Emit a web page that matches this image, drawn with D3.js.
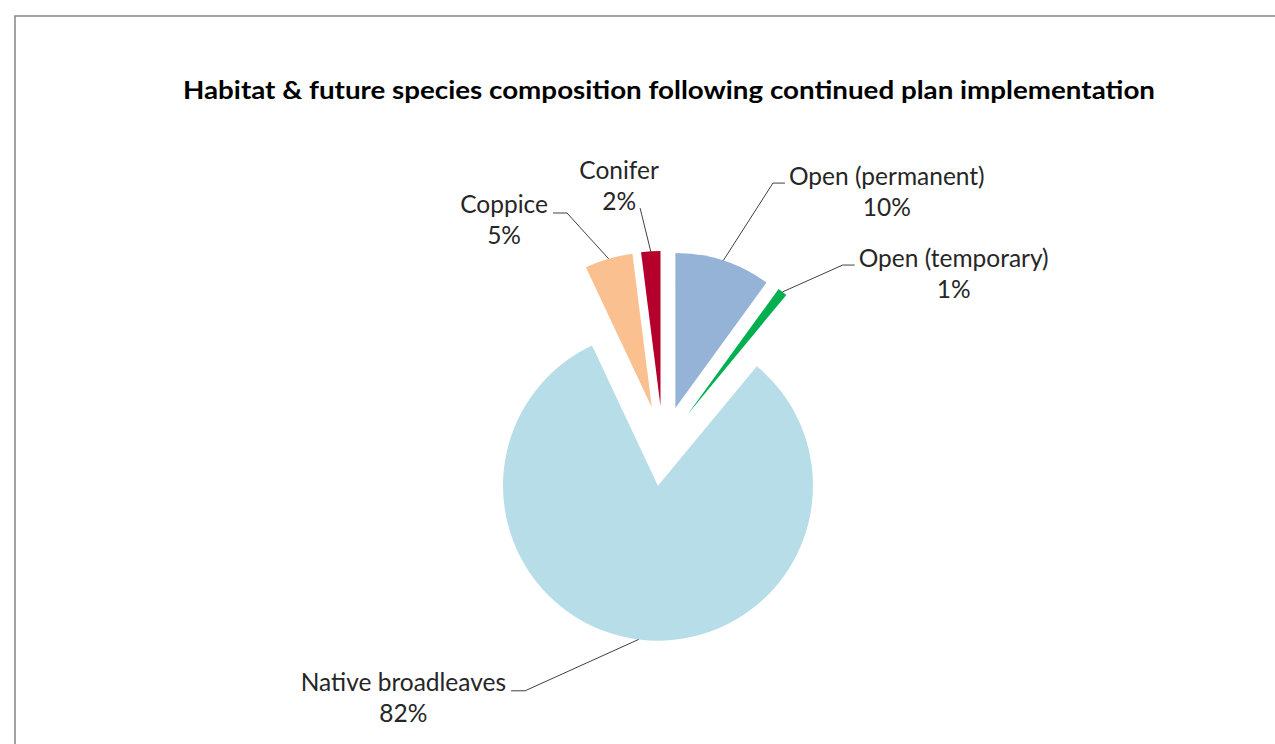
<!DOCTYPE html>
<html>
<head>
<meta charset="utf-8">
<script src="https://cdn.jsdelivr.net/npm/d3@7"></script>
<style>
  body { margin: 0; background: #fff; }
  text { font-family: Lato, "Open Sans", sans-serif; fill: #262626; }
</style>
</head>
<body>
<div id="chart"></div>
<script>
const title = "Habitat & future species composition following continued plan implementation";
const categories = ["Open (permanent)", "Open (temporary)", "Native broadleaves", "Coppice", "Conifer"];
const shares = [10, 1, 82, 5, 2];
const colors = ["#95b3d7", "#00b050", "#b7dee8", "#fac090", "#b5002c"];

// where each data label sits, polar around the pie centre (degrees clockwise from 12 o'clock)
const labelAngle = [22.7, 44.8, 209.4, 337.6, 354.5];
const labelDist = [285, 255, 281, 252, 239];
const labelSide = ["right", "right", "left", "left", "top"];

let width = 1275,
    height = 744,
    cx = 663,
    cy = 446,
    radius = 155,
    explode = 40,
    fontSize = 24.5,
    lineGap = 31;

const svg = d3.select("#chart").append("svg")
    .attr("width", width)
    .attr("height", height);

// chart frame (only top and left edges show in the picture)
svg.append("rect")
    .attr("x", 15)
    .attr("y", 16)
    .attr("width", width + 20)
    .attr("height", height + 20)
    .attr("fill", "#fff")
    .attr("stroke", "#8c8c8c")
    .attr("stroke-width", 1.6);

svg.append("text")
    .attr("x", 669)
    .attr("y", 99)
    .attr("text-anchor", "middle")
    .attr("font-weight", "bold")
    .attr("font-size", 25.5)
    .attr("textLength", 972)
    .attr("lengthAdjust", "spacingAndGlyphs")
    .style("fill", "#000")
    .text(title);

const pie = d3.pie().sort(null).value(d => d.value);
const arc = d3.arc().innerRadius(0).outerRadius(radius);

const data = pie(categories.map((c, i) => ({ name: c, value: shares[i], color: colors[i] })));

const rad = deg => deg * Math.PI / 180;
const polar = (a, r) => [Math.sin(a) * r, -Math.cos(a) * r];
const mid = d => (d.startAngle + d.endAngle) / 2;
const offset = d => polar(mid(d), explode);

const g = svg.append("g").attr("transform", `translate(${cx},${cy})`);

g.selectAll("path.slice")
    .data(data)
    .enter()
    .append("path")
    .attr("class", "slice")
    .attr("transform", d => `translate(${offset(d)})`)
    .attr("d", arc)
    .attr("fill", d => d.data.color);

// leader lines + labels
data.forEach((d, i) => {
    const o = offset(d);
    const edge = polar(mid(d), radius);
    const start = [o[0] + edge[0], o[1] + edge[1]];
    const elbow = polar(rad(labelAngle[i]), labelDist[i]);
    const side = labelSide[i];

    let pts = [start, elbow];
    if (side === "right") pts.push([elbow[0] + 12, elbow[1]]);
    if (side === "left") pts.push([elbow[0] - 14, elbow[1]]);

    g.append("path")
        .attr("d", d3.line()(pts))
        .attr("fill", "none")
        .attr("stroke", "#404040")
        .attr("stroke-width", 1);

    const first = g.append("text")
        .attr("font-size", fontSize)
        .text(d.data.name);
    const w = first.node().getComputedTextLength();

    let centreX, base;
    if (side === "right") {
        centreX = elbow[0] + 16 + w / 2;
        base = elbow[1] + 2;
    } else if (side === "left") {
        centreX = elbow[0] - 19 - w / 2;
        base = elbow[1];
    } else {
        centreX = elbow[0] - 21;
        base = elbow[1] + 2 - lineGap;
    }

    first.attr("x", centreX)
        .attr("y", base)
        .attr("text-anchor", "middle");

    g.append("text")
        .attr("x", centreX)
        .attr("y", base + lineGap)
        .attr("text-anchor", "middle")
        .attr("font-size", fontSize)
        .text(`${d.data.value}%`);
});
</script>
</body>
</html>
